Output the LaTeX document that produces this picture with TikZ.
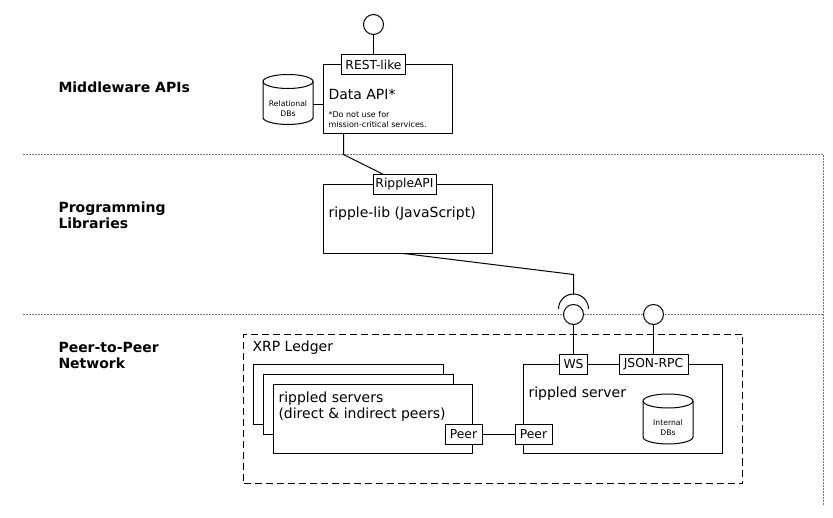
\documentclass[tikz,border=0pt]{standalone}
\usepackage{fontspec}
\setmainfont{DejaVu Sans}
\definecolor{LayerRule}{RGB}{120,120,120}

\begin{document}
\begin{tikzpicture}[x=1pt,y=-1pt,line width=1pt,font=\fontsize{14}{16}\selectfont,
  compbox/.style={draw,fill=white,anchor=north west,outer sep=0pt,inner sep=0pt},
  portbox/.style={draw,fill=white,outer sep=0pt,inner sep=0pt,minimum height=20pt,font=\fontsize{12.3}{14}\selectfont},
  lollipop/.style={draw,fill=white,circle,minimum size=20pt,outer sep=0pt,inner sep=0pt},
  drumbase/.style={minimum width=50pt,minimum height=50pt,outer sep=0pt,inner sep=0pt},
  dbtext/.style={align=center,inner sep=0pt,font=\fontsize{7.7}{10}\selectfont},
  layerlabel/.style={anchor=west,align=left,inner sep=0pt,font=\fontsize{14}{16}\selectfont\bfseries},
  boxlabel/.style={anchor=west,align=left,inner sep=0pt},
  rulestyle/.style={LayerRule,dash pattern=on 2pt off 1pt}]
  % Draws a database drum of 50 by 50 around a named node.
  \newcommand{\dbdrum}[4]{%
    \node[drumbase] (#1) at (#2,#3) {};
    \draw[fill=white] ([yshift=-7pt]#1.north west)
      arc[start angle=180,end angle=0,x radius=25pt,y radius=7pt]
      -- ([yshift=7pt]#1.south east)
      arc[start angle=360,end angle=180,x radius=25pt,y radius=7pt] -- cycle;
    \draw ([yshift=-7pt]#1.north west)
      arc[start angle=180,end angle=360,x radius=25pt,y radius=7pt];
    \node[dbtext] (#1text) at ([yshift=-9pt]#1.center) {#4};
  }
  \useasboundingbox (0,0) rectangle (833,518);

  % Layer separators run across the whole width.
  \coordinate (ruleAleft) at (23,154.5);
  \coordinate (ruleAright) at (823,154.5);
  \coordinate (ruleBleft) at (23,314.5);
  \coordinate (ruleBright) at (823,314.5);
  \coordinate (ruleend) at (823,505);
  \draw[rulestyle] (ruleAleft) -- (ruleAright) -- (ruleend);
  \draw[rulestyle] (ruleBleft) -- (ruleBright);

  \node[layerlabel] (middleware) at (58,87) {Middleware APIs};
  \node[layerlabel] (libraries) at (58,215) {Programming\\Libraries};
  \node[layerlabel] (network) at (58,355) {Peer-to-Peer\\Network};

  % Data API layer
  \node[lollipop] (restball) at (373.5,24.5) {};
  \node[compbox,minimum width=129pt,minimum height=69pt] (dataapi) at (323.5,64.5) {};
  \node[portbox,minimum width=64pt] (restlike) at (373.5,64.5) {REST-like};
  \node[boxlabel] (dataapilabel) at (328,94) {Data API*};
  \node[boxlabel,font=\fontsize{8}{10}\selectfont] (dataapinote) at (328,120) {*Do not use for\\mission-critical services.};
  \dbdrum{reldb}{288}{99.5}{Relational\\DBs}
  \draw (restball) -- (restlike);
  \coordinate (dataapiside) at (323.5,104.5);
  \draw (dataapiside -| reldb.east) -- (dataapiside);

  % ripple-lib layer
  \node[compbox,minimum width=169pt,minimum height=69pt] (ripplelib) at (323.5,184.5) {};
  \node[portbox,minimum width=63pt] (rippleapi) at (404.5,184.5) {RippleAPI};
  \node[boxlabel] (ripplelablabel) at (328,214) {ripple-lib (JavaScript)};
  \coordinate (dataapifoot) at (343.5,133.5);
  \coordinate (dataapibend) at (343.5,154.5);
  \coordinate (rippleapifoot) at (383.5,174.5);
  \draw (dataapifoot) -- (dataapibend) -- (rippleapifoot);

  % XRP Ledger group
  \node[compbox,dashed,dash pattern=on 7pt off 4pt,fill=none,minimum width=499pt,minimum height=149pt] (ledger) at (243.5,334.5) {};
  \node[boxlabel] (ledgerlabel) at (252,348) {XRP Ledger};
  \node[compbox,minimum width=190pt,minimum height=60pt] (serverA) at (253.5,364.5) {};
  \node[compbox,minimum width=190pt,minimum height=60pt] (serverB) at (263.5,374.5) {};
  \node[compbox,minimum width=199pt,minimum height=69pt] (serverC) at (273.5,384.5) {};
  \node[boxlabel] (serverClabel) at (278,407) {rippled servers\\(direct \& indirect peers)};
  \node[portbox,minimum width=37pt] (peerleft) at (463.5,434.5) {Peer};

  \node[compbox,minimum width=199pt,minimum height=89pt] (rippled) at (523.5,364.5) {};
  \node[boxlabel] (rippledlabel) at (528,394) {rippled server};
  \node[portbox,minimum width=28pt] (ws) at (573.5,364.5) {WS};
  \node[portbox,minimum width=69pt] (jsonrpc) at (653.5,364.5) {JSON-RPC};
  \node[portbox,minimum width=37pt] (peerright) at (533.5,434.5) {Peer};
  \dbdrum{internaldb}{668}{419}{Internal\\DBs}
  \draw (peerleft) -- (peerright);

  % Sockets on the layer boundary
  \node[lollipop] (wsball) at (573.5,314.5) {};
  \node[lollipop] (jsonball) at (653.5,314.5) {};
  \draw (wsball) -- (ws);
  \draw (jsonball) -- (jsonrpc);
  \coordinate (socketleft) at (558.5,309);
  \coordinate (sockettop) at (573.5,294.5);
  \coordinate (socketbend) at (573.5,274.5);
  \coordinate (ripplefoot) at (403.5,253.5);
  \draw (socketleft) arc[start angle=180,end angle=0,radius=15pt];
  \draw (ripplefoot) -- (socketbend) -- (sockettop);
\end{tikzpicture}
\end{document}
